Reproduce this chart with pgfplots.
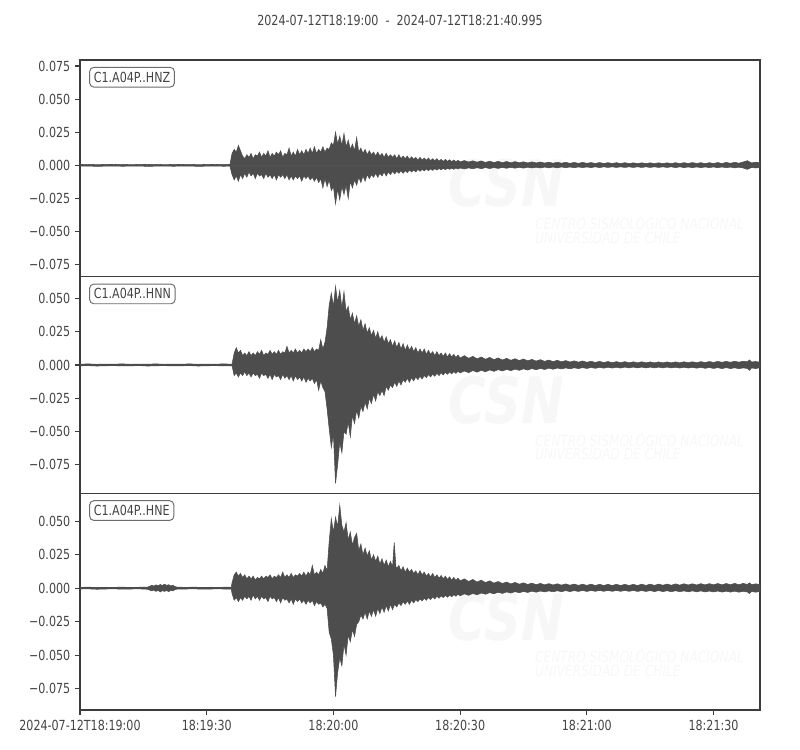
\documentclass[border=0pt]{standalone}
\usepackage{fontspec}
\setmainfont{DejaVu Sans}[FakeStretch=0.8]
\usepackage{pgfplots}
\usepackage{pgfplotstable}
\pgfplotsset{compat=1.18}

\definecolor{tracec}{RGB}{77,77,77}
\definecolor{txt}{RGB}{68,68,68}
\definecolor{frame}{RGB}{60,60,60}
\definecolor{wm}{RGB}{247,247,247}

% ---- HNZ envelope ----
\pgfplotstableread[row sep=\\]{
t v\\
0 0.0006\\ 2 0.0008\\ 4 0.0005\\ 6 0.0007\\ 8 0.0006\\ 10 0.0008\\ 12 0.0005\\ 14 0.0007\\ 16 0.0006\\ 18 0.0008\\
20 0.0005\\ 22 0.0007\\ 24 0.0006\\ 26 0.0008\\ 28 0.0005\\ 30 0.0007\\ 32 0.0006\\ 34 0.0008\\ 35.5 0.0006\\
36 0.009\\ 36.5 0.012\\ 37 0.010\\ 37.5 0.015\\ 38 0.011\\ 38.5 0.007\\ 39 0.005\\ 39.5 0.008\\ 40 0.006\\ 40.5 0.009\\
41 0.005\\ 41.5 0.008\\ 42 0.007\\ 42.5 0.010\\ 43 0.006\\ 43.5 0.009\\ 44 0.007\\ 44.5 0.011\\ 45 0.006\\ 45.5 0.009\\
46 0.007\\ 46.5 0.010\\ 47 0.008\\ 47.5 0.011\\ 48 0.006\\ 48.5 0.009\\ 49 0.008\\ 49.5 0.013\\ 50 0.007\\ 50.5 0.010\\
51 0.007\\ 51.5 0.012\\ 52 0.008\\ 52.5 0.011\\ 53 0.008\\ 53.5 0.012\\ 54 0.009\\ 54.5 0.013\\ 55 0.009\\ 55.5 0.014\\
56 0.009\\ 56.5 0.012\\ 57 0.010\\ 57.5 0.014\\ 58 0.010\\ 58.5 0.013\\ 59 0.012\\ 59.5 0.017\\ 60 0.015\\ 60.5 0.025\\
61 0.016\\ 61.5 0.022\\ 62 0.015\\ 62.5 0.024\\ 63 0.014\\ 63.5 0.019\\ 64 0.012\\ 64.5 0.016\\ 65 0.011\\ 65.5 0.021\\
66 0.010\\ 66.5 0.013\\ 67 0.009\\ 67.5 0.012\\ 68 0.008\\ 68.5 0.011\\ 69 0.008\\ 69.5 0.010\\ 70 0.007\\ 70.5 0.010\\
71 0.007\\ 71.5 0.009\\ 72 0.006\\ 72.5 0.009\\ 73 0.006\\ 73.5 0.008\\ 74 0.006\\ 74.5 0.008\\ 75 0.005\\ 75.5 0.008\\
76 0.005\\ 76.5 0.007\\ 77 0.005\\ 77.5 0.007\\ 78 0.0045\\ 78.5 0.0065\\ 79 0.0045\\ 79.5 0.006\\ 80 0.004\\ 80.5 0.006\\
81 0.004\\ 81.5 0.0055\\ 82 0.0038\\ 82.5 0.0055\\ 83 0.0035\\ 83.5 0.005\\ 84 0.0035\\ 84.5 0.005\\ 85 0.0032\\ 85.5 0.0045\\
86 0.003\\ 86.5 0.0045\\ 87 0.003\\ 87.5 0.0042\\ 88 0.0028\\ 88.5 0.004\\ 89 0.0027\\ 89.5 0.0038\\ 90 0.0026\\
91 0.0036\\ 92 0.0025\\ 93 0.0034\\ 94 0.0024\\ 95 0.0033\\ 96 0.0022\\ 97 0.0031\\ 98 0.0021\\ 99 0.003\\ 100 0.002\\
101 0.0029\\ 102 0.0019\\ 103 0.0028\\ 104 0.0019\\ 105 0.0027\\ 106 0.0018\\ 107 0.0026\\ 108 0.0018\\ 109 0.0025\\ 110 0.0017\\
111 0.0024\\ 112 0.0016\\ 113 0.0023\\ 114 0.0016\\ 115 0.0023\\ 116 0.0015\\ 117 0.0022\\ 118 0.0015\\ 119 0.0022\\ 120 0.0015\\
121 0.0021\\ 122 0.0014\\ 123 0.0021\\ 124 0.0014\\ 125 0.002\\ 126 0.0014\\ 127 0.002\\ 128 0.0013\\ 129 0.002\\ 130 0.0013\\
131 0.0019\\ 132 0.0013\\ 133 0.0019\\ 134 0.0013\\ 135 0.0019\\ 136 0.0013\\ 137 0.0019\\ 138 0.0013\\ 139 0.0019\\ 140 0.0013\\
141 0.002\\ 142 0.0013\\ 143 0.002\\ 144 0.0014\\ 145 0.0021\\ 146 0.0014\\ 147 0.002\\ 148 0.0013\\ 149 0.002\\ 150 0.0014\\
151 0.0021\\ 152 0.0014\\ 153 0.0022\\ 154 0.0015\\ 155 0.0023\\ 156 0.0016\\ 157 0.0025\\ 158 0.0035\\ 159 0.0018\\ 160 0.0024\\
160.995 0.0018\\
}\hnzup
\pgfplotstableread[row sep=\\]{
t v\\
0 -0.0006\\ 2 -0.0005\\ 4 -0.0008\\ 6 -0.0006\\ 8 -0.0005\\ 10 -0.0007\\ 12 -0.0006\\ 14 -0.0005\\ 16 -0.0008\\ 18 -0.0006\\
20 -0.0005\\ 22 -0.0007\\ 24 -0.0006\\ 26 -0.0005\\ 28 -0.0008\\ 30 -0.0006\\ 32 -0.0005\\ 34 -0.0007\\ 35.5 -0.0006\\
36 -0.007\\ 36.5 -0.011\\ 37 -0.008\\ 37.5 -0.012\\ 38 -0.007\\ 38.5 -0.010\\ 39 -0.006\\ 39.5 -0.009\\ 40 -0.005\\ 40.5 -0.008\\
41 -0.006\\ 41.5 -0.010\\ 42 -0.006\\ 42.5 -0.008\\ 43 -0.007\\ 43.5 -0.010\\ 44 -0.006\\ 44.5 -0.009\\ 45 -0.007\\ 45.5 -0.010\\
46 -0.007\\ 46.5 -0.011\\ 47 -0.007\\ 47.5 -0.009\\ 48 -0.007\\ 48.5 -0.010\\ 49 -0.007\\ 49.5 -0.011\\ 50 -0.008\\ 50.5 -0.011\\
51 -0.008\\ 51.5 -0.010\\ 52 -0.008\\ 52.5 -0.012\\ 53 -0.008\\ 53.5 -0.010\\ 54 -0.008\\ 54.5 -0.011\\ 55 -0.009\\ 55.5 -0.012\\
56 -0.009\\ 56.5 -0.013\\ 57 -0.010\\ 57.5 -0.017\\ 58 -0.010\\ 58.5 -0.016\\ 59 -0.011\\ 59.5 -0.019\\ 60 -0.016\\ 60.5 -0.029\\
61 -0.018\\ 61.5 -0.026\\ 62 -0.016\\ 62.5 -0.022\\ 63 -0.015\\ 63.5 -0.025\\ 64 -0.012\\ 64.5 -0.017\\ 65 -0.011\\ 65.5 -0.015\\
66 -0.009\\ 66.5 -0.013\\ 67 -0.008\\ 67.5 -0.012\\ 68 -0.007\\ 68.5 -0.010\\ 69 -0.007\\ 69.5 -0.009\\ 70 -0.006\\ 70.5 -0.009\\
71 -0.006\\ 71.5 -0.008\\ 72 -0.005\\ 72.5 -0.008\\ 73 -0.005\\ 73.5 -0.007\\ 74 -0.0045\\ 74.5 -0.0065\\ 75 -0.0045\\ 75.5 -0.006\\
76 -0.004\\ 76.5 -0.006\\ 77 -0.004\\ 77.5 -0.0055\\ 78 -0.0035\\ 78.5 -0.005\\ 79 -0.0035\\ 79.5 -0.005\\ 80 -0.003\\ 80.5 -0.0045\\
81 -0.003\\ 81.5 -0.0042\\ 82 -0.0028\\ 82.5 -0.004\\ 83 -0.0027\\ 83.5 -0.0038\\ 84 -0.0025\\ 84.5 -0.0036\\ 85 -0.0024\\ 85.5 -0.0034\\
86 -0.0023\\ 86.5 -0.0032\\ 87 -0.0022\\ 87.5 -0.003\\ 88 -0.0021\\ 88.5 -0.003\\ 89 -0.002\\ 89.5 -0.0028\\ 90 -0.002\\
91 -0.0027\\ 92 -0.0019\\ 93 -0.0026\\ 94 -0.0018\\ 95 -0.0025\\ 96 -0.0017\\ 97 -0.0024\\ 98 -0.0017\\ 99 -0.0023\\ 100 -0.0016\\
101 -0.0022\\ 102 -0.0015\\ 103 -0.0021\\ 104 -0.0015\\ 105 -0.0021\\ 106 -0.0014\\ 107 -0.002\\ 108 -0.0014\\ 109 -0.002\\ 110 -0.0013\\
111 -0.0019\\ 112 -0.0013\\ 113 -0.0019\\ 114 -0.0012\\ 115 -0.0018\\ 116 -0.0012\\ 117 -0.0018\\ 118 -0.0012\\ 119 -0.0017\\ 120 -0.0012\\
121 -0.0017\\ 122 -0.0011\\ 123 -0.0017\\ 124 -0.0011\\ 125 -0.0016\\ 126 -0.0011\\ 127 -0.0016\\ 128 -0.0011\\ 129 -0.0016\\ 130 -0.0011\\
131 -0.0016\\ 132 -0.0011\\ 133 -0.0016\\ 134 -0.0011\\ 135 -0.0016\\ 136 -0.0011\\ 137 -0.0016\\ 138 -0.0011\\ 139 -0.0016\\ 140 -0.0011\\
141 -0.0017\\ 142 -0.0011\\ 143 -0.0017\\ 144 -0.0012\\ 145 -0.0017\\ 146 -0.0012\\ 147 -0.0017\\ 148 -0.0012\\ 149 -0.0017\\ 150 -0.0012\\
151 -0.0018\\ 152 -0.0012\\ 153 -0.0018\\ 154 -0.0013\\ 155 -0.0019\\ 156 -0.0014\\ 157 -0.002\\ 158 -0.003\\ 159 -0.0016\\ 160 -0.002\\
160.995 -0.0015\\
}\hnzlo

% ---- HNN envelope ----
\pgfplotstableread[row sep=\\]{
t v\\
0 0.0006\\ 2 0.0008\\ 4 0.0005\\ 6 0.0007\\ 8 0.0006\\ 10 0.0008\\ 12 0.0005\\ 14 0.0007\\ 16 0.0006\\ 18 0.0008\\
20 0.0005\\ 22 0.0007\\ 24 0.0006\\ 26 0.0008\\ 28 0.0005\\ 30 0.0007\\ 32 0.0006\\ 34 0.0008\\ 36 0.0006\\
36.5 0.009\\ 37 0.013\\ 37.5 0.009\\ 38 0.011\\ 38.5 0.007\\ 39 0.009\\ 39.5 0.007\\ 40 0.010\\ 40.5 0.007\\ 41 0.009\\
41.5 0.007\\ 42 0.010\\ 42.5 0.008\\ 43 0.011\\ 43.5 0.007\\ 44 0.009\\ 44.5 0.008\\ 45 0.011\\ 45.5 0.008\\ 46 0.010\\
46.5 0.008\\ 47 0.011\\ 47.5 0.008\\ 48 0.010\\ 48.5 0.009\\ 49 0.014\\ 49.5 0.009\\ 50 0.011\\ 50.5 0.009\\ 51 0.012\\
51.5 0.009\\ 52 0.011\\ 52.5 0.009\\ 53 0.012\\ 53.5 0.010\\ 54 0.012\\ 54.5 0.010\\ 55 0.013\\ 55.5 0.010\\ 56 0.012\\
56.5 0.011\\ 57 0.019\\ 57.5 0.012\\ 58 0.017\\ 58.5 0.028\\ 59 0.045\\ 59.5 0.054\\ 60 0.044\\ 60.5 0.059\\ 61 0.047\\
61.5 0.056\\ 62 0.043\\ 62.5 0.055\\ 63 0.040\\ 63.5 0.044\\ 64 0.034\\ 64.5 0.039\\ 65 0.031\\ 65.5 0.037\\ 66 0.029\\
66.5 0.034\\ 67 0.026\\ 67.5 0.031\\ 68 0.024\\ 68.5 0.028\\ 69 0.022\\ 69.5 0.026\\ 70 0.020\\ 70.5 0.025\\ 71 0.019\\
71.5 0.022\\ 72 0.017\\ 72.5 0.021\\ 73 0.016\\ 73.5 0.019\\ 74 0.014\\ 74.5 0.018\\ 75 0.013\\ 75.5 0.017\\ 76 0.012\\
76.5 0.016\\ 77 0.011\\ 77.5 0.015\\ 78 0.011\\ 78.5 0.014\\ 79 0.010\\ 79.5 0.013\\ 80 0.009\\ 80.5 0.012\\ 81 0.009\\
81.5 0.012\\ 82 0.008\\ 82.5 0.011\\ 83 0.008\\ 83.5 0.010\\ 84 0.007\\ 84.5 0.010\\ 85 0.007\\ 85.5 0.009\\ 86 0.0065\\
86.5 0.009\\ 87 0.006\\ 87.5 0.0085\\ 88 0.006\\ 88.5 0.008\\ 89 0.0055\\ 89.5 0.0075\\ 90 0.0052\\
91 0.007\\ 92 0.005\\ 93 0.0065\\ 94 0.0046\\ 95 0.006\\ 96 0.0043\\ 97 0.0057\\ 98 0.004\\ 99 0.0053\\ 100 0.0037\\
101 0.005\\ 102 0.0035\\ 103 0.0047\\ 104 0.0033\\ 105 0.0045\\ 106 0.0031\\ 107 0.0042\\ 108 0.0029\\ 109 0.004\\ 110 0.0027\\
111 0.0037\\ 112 0.0025\\ 113 0.0035\\ 114 0.0024\\ 115 0.0033\\ 116 0.0022\\ 117 0.0031\\ 118 0.0021\\ 119 0.003\\ 120 0.002\\
121 0.0028\\ 122 0.0019\\ 123 0.0027\\ 124 0.0018\\ 125 0.0026\\ 126 0.0017\\ 127 0.0025\\ 128 0.0017\\ 129 0.0025\\ 130 0.0016\\
131 0.0024\\ 132 0.0016\\ 133 0.0024\\ 134 0.0016\\ 135 0.0023\\ 136 0.0016\\ 137 0.0023\\ 138 0.0016\\ 139 0.0023\\ 140 0.0016\\
141 0.0023\\ 142 0.0016\\ 143 0.0024\\ 144 0.0017\\ 145 0.0024\\ 146 0.0017\\ 147 0.0025\\ 148 0.0018\\ 149 0.0026\\ 150 0.0019\\
151 0.0027\\ 152 0.002\\ 153 0.0027\\ 154 0.002\\ 155 0.0028\\ 156 0.0021\\ 157 0.0028\\ 158 0.0024\\ 158.5 0.0038\\ 159 0.0022\\
160 0.0026\\ 160.995 0.002\\
}\hnnup
\pgfplotstableread[row sep=\\]{
t v\\
0 -0.0006\\ 2 -0.0005\\ 4 -0.0008\\ 6 -0.0006\\ 8 -0.0005\\ 10 -0.0007\\ 12 -0.0006\\ 14 -0.0005\\ 16 -0.0008\\ 18 -0.0006\\
20 -0.0005\\ 22 -0.0007\\ 24 -0.0006\\ 26 -0.0005\\ 28 -0.0008\\ 30 -0.0006\\ 32 -0.0005\\ 34 -0.0007\\ 36 -0.0006\\
36.5 -0.008\\ 37 -0.006\\ 37.5 -0.009\\ 38 -0.006\\ 38.5 -0.008\\ 39 -0.005\\ 39.5 -0.008\\ 40 -0.006\\ 40.5 -0.009\\ 41 -0.006\\
41.5 -0.008\\ 42 -0.007\\ 42.5 -0.010\\ 43 -0.006\\ 43.5 -0.008\\ 44 -0.007\\ 44.5 -0.010\\ 45 -0.007\\ 45.5 -0.011\\ 46 -0.007\\
46.5 -0.009\\ 47 -0.008\\ 47.5 -0.011\\ 48 -0.007\\ 48.5 -0.010\\ 49 -0.008\\ 49.5 -0.011\\ 50 -0.008\\ 50.5 -0.012\\ 51 -0.008\\
51.5 -0.011\\ 52 -0.009\\ 52.5 -0.012\\ 53 -0.009\\ 53.5 -0.013\\ 54 -0.010\\ 54.5 -0.012\\ 55 -0.010\\ 55.5 -0.014\\ 56 -0.011\\
56.5 -0.019\\ 57 -0.012\\ 57.5 -0.017\\ 58 -0.020\\ 58.5 -0.033\\ 59 -0.048\\ 59.5 -0.062\\ 60 -0.052\\ 60.5 -0.089\\ 61 -0.075\\
61.5 -0.058\\ 62 -0.066\\ 62.5 -0.050\\ 63 -0.052\\ 63.5 -0.043\\ 64 -0.054\\ 64.5 -0.038\\ 65 -0.044\\ 65.5 -0.034\\ 66 -0.040\\
66.5 -0.031\\ 67 -0.035\\ 67.5 -0.028\\ 68 -0.033\\ 68.5 -0.025\\ 69 -0.029\\ 69.5 -0.022\\ 70 -0.027\\ 70.5 -0.020\\ 71 -0.023\\
71.5 -0.019\\ 72 -0.023\\ 72.5 -0.016\\ 73 -0.019\\ 73.5 -0.015\\ 74 -0.017\\ 74.5 -0.013\\ 75 -0.016\\ 75.5 -0.012\\ 76 -0.015\\
76.5 -0.011\\ 77 -0.013\\ 77.5 -0.010\\ 78 -0.013\\ 78.5 -0.0095\\ 79 -0.012\\ 79.5 -0.009\\ 80 -0.011\\ 80.5 -0.0085\\ 81 -0.0105\\
81.5 -0.008\\ 82 -0.0095\\ 82.5 -0.0072\\ 83 -0.009\\ 83.5 -0.0068\\ 84 -0.0085\\ 84.5 -0.0062\\ 85 -0.008\\ 85.5 -0.0058\\ 86 -0.0075\\
86.5 -0.0055\\ 87 -0.007\\ 87.5 -0.0052\\ 88 -0.0067\\ 88.5 -0.005\\ 89 -0.0063\\ 89.5 -0.0047\\ 90 -0.006\\
91 -0.0045\\ 92 -0.0058\\ 93 -0.0042\\ 94 -0.0054\\ 95 -0.004\\ 96 -0.0051\\ 97 -0.0037\\ 98 -0.0048\\ 99 -0.0035\\ 100 -0.0045\\
101 -0.0033\\ 102 -0.0043\\ 103 -0.0031\\ 104 -0.004\\ 105 -0.0029\\ 106 -0.0038\\ 107 -0.0027\\ 108 -0.0036\\ 109 -0.0026\\ 110 -0.0034\\
111 -0.0024\\ 112 -0.0032\\ 113 -0.0023\\ 114 -0.003\\ 115 -0.0022\\ 116 -0.0029\\ 117 -0.0021\\ 118 -0.0027\\ 119 -0.002\\ 120 -0.0026\\
121 -0.0019\\ 122 -0.0025\\ 123 -0.0018\\ 124 -0.0024\\ 125 -0.0017\\ 126 -0.0023\\ 127 -0.0017\\ 128 -0.0023\\ 129 -0.0016\\ 130 -0.0022\\
131 -0.0016\\ 132 -0.0022\\ 133 -0.0016\\ 134 -0.0022\\ 135 -0.0016\\ 136 -0.0022\\ 137 -0.0016\\ 138 -0.0022\\ 139 -0.0016\\ 140 -0.0022\\
141 -0.0017\\ 142 -0.0023\\ 143 -0.0017\\ 144 -0.0023\\ 145 -0.0018\\ 146 -0.0024\\ 147 -0.0018\\ 148 -0.0025\\ 149 -0.0019\\ 150 -0.0026\\
151 -0.002\\ 152 -0.0027\\ 153 -0.002\\ 154 -0.0027\\ 155 -0.0021\\ 156 -0.0028\\ 157 -0.0022\\ 158 -0.0026\\ 158.5 -0.004\\ 159 -0.0022\\
160 -0.0027\\ 160.995 -0.002\\
}\hnnlo

% ---- HNE envelope ----
\pgfplotstableread[row sep=\\]{
t v\\
0 0.0006\\ 2 0.0008\\ 4 0.0005\\ 6 0.0007\\ 8 0.0006\\ 10 0.0008\\ 12 0.0005\\ 14 0.0007\\ 16 0.0008\\ 16.5 0.0015\\
17 0.0022\\ 17.5 0.0016\\ 18 0.0025\\ 18.5 0.0018\\ 19 0.0028\\ 19.5 0.002\\ 20 0.003\\ 20.5 0.0021\\ 21 0.0026\\ 21.5 0.0017\\
22 0.0022\\ 22.5 0.0012\\ 23 0.0008\\ 25 0.0006\\ 27 0.0008\\ 29 0.0005\\ 31 0.0007\\ 33 0.0006\\ 35 0.0008\\ 35.8 0.0006\\
36 0.004\\ 36.5 0.010\\ 37 0.012\\ 37.5 0.009\\ 38 0.011\\ 38.5 0.008\\ 39 0.010\\ 39.5 0.007\\ 40 0.009\\ 40.5 0.007\\
41 0.009\\ 41.5 0.006\\ 42 0.008\\ 42.5 0.007\\ 43 0.009\\ 43.5 0.007\\ 44 0.009\\ 44.5 0.008\\ 45 0.010\\ 45.5 0.007\\
46 0.009\\ 46.5 0.008\\ 47 0.010\\ 47.5 0.008\\ 48 0.012\\ 48.5 0.008\\ 49 0.010\\ 49.5 0.008\\ 50 0.011\\ 50.5 0.008\\
51 0.010\\ 51.5 0.009\\ 52 0.011\\ 52.5 0.009\\ 53 0.012\\ 53.5 0.009\\ 54 0.012\\ 54.5 0.010\\ 55 0.017\\ 55.5 0.010\\
56 0.012\\ 56.5 0.010\\ 57 0.014\\ 57.5 0.011\\ 58 0.017\\ 58.5 0.013\\ 59 0.035\\ 59.5 0.052\\ 60 0.042\\ 60.5 0.053\\
61 0.046\\ 61.5 0.062\\ 62 0.047\\ 62.5 0.042\\ 63 0.049\\ 63.5 0.036\\ 64 0.042\\ 64.5 0.032\\ 65 0.038\\ 65.5 0.041\\
66 0.028\\ 66.5 0.033\\ 67 0.025\\ 67.5 0.030\\ 68 0.024\\ 68.5 0.028\\ 69 0.021\\ 69.5 0.025\\ 70 0.020\\ 70.5 0.024\\
71 0.018\\ 71.5 0.022\\ 72 0.017\\ 72.5 0.021\\ 73 0.016\\ 73.5 0.020\\ 74 0.016\\ 74.4 0.034\\ 74.8 0.016\\ 75 0.015\\
75.5 0.017\\ 76 0.013\\ 76.5 0.016\\ 77 0.012\\ 77.5 0.015\\ 78 0.012\\ 78.5 0.014\\ 79 0.011\\ 79.5 0.013\\ 80 0.010\\
80.5 0.013\\ 81 0.010\\ 81.5 0.012\\ 82 0.009\\ 82.5 0.011\\ 83 0.0085\\ 83.5 0.011\\ 84 0.008\\ 84.5 0.010\\ 85 0.0075\\
85.5 0.0095\\ 86 0.007\\ 86.5 0.009\\ 87 0.0065\\ 87.5 0.0085\\ 88 0.006\\ 88.5 0.008\\ 89 0.0058\\ 89.5 0.0075\\ 90 0.0055\\
91 0.007\\ 92 0.005\\ 93 0.0065\\ 94 0.0046\\ 95 0.006\\ 96 0.0042\\ 97 0.0055\\ 98 0.0038\\ 99 0.005\\ 100 0.0035\\
101 0.0046\\ 102 0.0032\\ 103 0.0043\\ 104 0.003\\ 105 0.004\\ 106 0.0028\\ 107 0.0038\\ 108 0.0026\\ 109 0.0036\\ 110 0.0025\\
111 0.0034\\ 112 0.0024\\ 113 0.0033\\ 114 0.0023\\ 115 0.0032\\ 116 0.0022\\ 117 0.0031\\ 118 0.0021\\ 119 0.003\\ 120 0.0021\\
121 0.003\\ 122 0.002\\ 123 0.0029\\ 124 0.002\\ 125 0.0029\\ 126 0.002\\ 127 0.0029\\ 128 0.002\\ 129 0.0029\\ 130 0.002\\
131 0.0029\\ 132 0.002\\ 133 0.003\\ 134 0.0021\\ 135 0.003\\ 136 0.0021\\ 137 0.0031\\ 138 0.0022\\ 139 0.0031\\ 140 0.0022\\
141 0.0032\\ 142 0.0023\\ 143 0.0033\\ 144 0.0024\\ 145 0.0033\\ 146 0.0024\\ 147 0.0034\\ 148 0.0025\\ 149 0.0034\\ 150 0.0025\\
151 0.0035\\ 152 0.0025\\ 153 0.0035\\ 154 0.0026\\ 155 0.0036\\ 156 0.0026\\ 157 0.0036\\ 158 0.0028\\ 158.5 0.004\\ 159 0.0026\\
160 0.0033\\ 160.995 0.0025\\
}\hneup
\pgfplotstableread[row sep=\\]{
t v\\
0 -0.0006\\ 2 -0.0005\\ 4 -0.0008\\ 6 -0.0006\\ 8 -0.0005\\ 10 -0.0007\\ 12 -0.0006\\ 14 -0.0005\\ 16 -0.0008\\ 16.5 -0.0014\\
17 -0.002\\ 17.5 -0.0014\\ 18 -0.0024\\ 18.5 -0.0016\\ 19 -0.0028\\ 19.5 -0.0018\\ 20 -0.0024\\ 20.5 -0.0017\\ 21 -0.0026\\ 21.5 -0.0015\\
22 -0.002\\ 22.5 -0.001\\ 23 -0.0007\\ 25 -0.0006\\ 27 -0.0005\\ 29 -0.0007\\ 31 -0.0006\\ 33 -0.0005\\ 35 -0.0007\\ 35.8 -0.0006\\
36 -0.004\\ 36.5 -0.009\\ 37 -0.007\\ 37.5 -0.010\\ 38 -0.007\\ 38.5 -0.009\\ 39 -0.006\\ 39.5 -0.008\\ 40 -0.006\\ 40.5 -0.009\\
41 -0.005\\ 41.5 -0.008\\ 42 -0.006\\ 42.5 -0.009\\ 43 -0.006\\ 43.5 -0.008\\ 44 -0.007\\ 44.5 -0.010\\ 45 -0.006\\ 45.5 -0.008\\
46 -0.007\\ 46.5 -0.010\\ 47 -0.007\\ 47.5 -0.011\\ 48 -0.007\\ 48.5 -0.009\\ 49 -0.008\\ 49.5 -0.011\\ 50 -0.008\\ 50.5 -0.012\\
51 -0.008\\ 51.5 -0.010\\ 52 -0.008\\ 52.5 -0.011\\ 53 -0.009\\ 53.5 -0.012\\ 54 -0.009\\ 54.5 -0.011\\ 55 -0.009\\ 55.5 -0.013\\
56 -0.010\\ 56.5 -0.012\\ 57 -0.011\\ 57.5 -0.014\\ 58 -0.012\\ 58.5 -0.015\\ 59 -0.033\\ 59.5 -0.038\\ 60 -0.050\\ 60.5 -0.081\\
61 -0.063\\ 61.5 -0.052\\ 62 -0.058\\ 62.5 -0.042\\ 63 -0.050\\ 63.5 -0.035\\ 64 -0.040\\ 64.5 -0.031\\ 65 -0.036\\ 65.5 -0.027\\
66 -0.025\\ 66.5 -0.020\\ 67 -0.023\\ 67.5 -0.018\\ 68 -0.023\\ 68.5 -0.017\\ 69 -0.021\\ 69.5 -0.016\\ 70 -0.021\\ 70.5 -0.015\\
71 -0.019\\ 71.5 -0.014\\ 72 -0.018\\ 72.5 -0.013\\ 73 -0.017\\ 73.5 -0.012\\ 74 -0.016\\ 74.5 -0.012\\ 75 -0.014\\ 75.5 -0.011\\
76 -0.013\\ 76.5 -0.010\\ 77 -0.012\\ 77.5 -0.0095\\ 78 -0.012\\ 78.5 -0.009\\ 79 -0.011\\ 79.5 -0.0085\\ 80 -0.010\\ 80.5 -0.008\\
81 -0.0095\\ 81.5 -0.0075\\ 82 -0.009\\ 82.5 -0.007\\ 83 -0.0085\\ 83.5 -0.0065\\ 84 -0.008\\ 84.5 -0.006\\ 85 -0.0075\\ 85.5 -0.0057\\
86 -0.007\\ 86.5 -0.0054\\ 87 -0.0067\\ 87.5 -0.0051\\ 88 -0.0064\\ 88.5 -0.0048\\ 89 -0.006\\ 89.5 -0.0045\\ 90 -0.0057\\
91 -0.0042\\ 92 -0.0053\\ 93 -0.0039\\ 94 -0.0049\\ 95 -0.0036\\ 96 -0.0045\\ 97 -0.0033\\ 98 -0.0042\\ 99 -0.003\\ 100 -0.0039\\
101 -0.0028\\ 102 -0.0036\\ 103 -0.0026\\ 104 -0.0034\\ 105 -0.0024\\ 106 -0.0032\\ 107 -0.0022\\ 108 -0.003\\ 109 -0.0021\\ 110 -0.0028\\
111 -0.002\\ 112 -0.0027\\ 113 -0.0019\\ 114 -0.0026\\ 115 -0.0018\\ 116 -0.0025\\ 117 -0.0018\\ 118 -0.0024\\ 119 -0.0017\\ 120 -0.0024\\
121 -0.0017\\ 122 -0.0023\\ 123 -0.0017\\ 124 -0.0023\\ 125 -0.0017\\ 126 -0.0023\\ 127 -0.0017\\ 128 -0.0023\\ 129 -0.0017\\ 130 -0.0023\\
131 -0.0017\\ 132 -0.0024\\ 133 -0.0018\\ 134 -0.0024\\ 135 -0.0018\\ 136 -0.0025\\ 137 -0.0018\\ 138 -0.0025\\ 139 -0.0019\\ 140 -0.0026\\
141 -0.0019\\ 142 -0.0026\\ 143 -0.002\\ 144 -0.0027\\ 145 -0.002\\ 146 -0.0027\\ 147 -0.002\\ 148 -0.0028\\ 149 -0.0021\\ 150 -0.0028\\
151 -0.0021\\ 152 -0.0029\\ 153 -0.0022\\ 154 -0.0029\\ 155 -0.0022\\ 156 -0.003\\ 157 -0.0023\\ 158 -0.0028\\ 158.5 -0.004\\ 159 -0.0024\\
160 -0.003\\ 160.995 -0.0022\\
}\hnelo

\pgfplotsset{
  seis/.style={
    width=489.6pt, height=156pt, scale only axis,
    anchor=south west,
    xmin=0, xmax=160.995,
    scaled y ticks=false, scaled x ticks=false,
    axis line style={frame, line width=0.8pt},
    tick style={frame, line width=0.8pt},
    tick align=outside, major tick length=3.5pt,
    ytick pos=left, xtick pos=bottom,
    ticklabel style={font=\fontsize{10}{12}\selectfont, text=txt},
  },
  band/.style={fill=tracec, draw=tracec, line width=0.4pt, line join=miter, forget plot},
}

\newcommand{\watermark}{%
  \node[text=wm, font=\bfseries\itshape\fontsize{46}{46}\selectfont] at (rel axis cs:0.627,0.43) {CSN};
  \node[text=wm, anchor=west, font=\itshape\fontsize{11}{11}\selectfont] at (rel axis cs:0.662,0.25) {CENTRO SISMOLÓGICO NACIONAL};
  \node[text=wm, anchor=west, font=\itshape\fontsize{11}{11}\selectfont] at (rel axis cs:0.662,0.18) {UNIVERSIDAD DE CHILE};
}
\newcommand{\chan}[1]{%
  \node[draw=black!58, line width=0.7pt, fill=white, rounded corners=3pt, anchor=north west,
        inner xsep=3pt, inner ysep=3.3pt,
        text=txt, font=\fontsize{10}{12}\selectfont] at (rel axis cs:0.0135,0.968) {#1};
}

\begin{document}
\begin{tikzpicture}
\path[use as bounding box] (0,0) rectangle (576pt,540pt);
\node[text=txt, font=\fontsize{10}{12}\selectfont] at (288pt,525.6pt)
  {2024-07-12T18:19:00\ \ -\ \ 2024-07-12T18:21:40.995};

% HNZ
\begin{axis}[seis, at={(57.6pt,340.8pt)},
  ymin=-0.0840, ymax=0.0795, xtick=\empty,
  ytick={-0.075,-0.05,-0.025,0,0.025,0.05,0.075},
  yticklabels={−0.075,−0.050,−0.025,0.000,0.025,0.050,0.075}]
\watermark
\addplot[band] table[x=t,y=v] {\hnzup} \closedcycle;
\addplot[band] table[x=t,y=v] {\hnzlo} \closedcycle;
\chan{C1.A04P..HNZ}
\end{axis}

% HNN
\begin{axis}[seis, at={(57.6pt,184.8pt)},
  ymin=-0.0965, ymax=0.0664, xtick=\empty,
  ytick={-0.075,-0.05,-0.025,0,0.025,0.05},
  yticklabels={−0.075,−0.050,−0.025,0.000,0.025,0.050}]
\watermark
\addplot[band] table[x=t,y=v] {\hnnup} \closedcycle;
\addplot[band] table[x=t,y=v] {\hnnlo} \closedcycle;
\chan{C1.A04P..HNN}
\end{axis}

% HNE
\begin{axis}[seis, at={(57.6pt,28.8pt)},
  ymin=-0.0910, ymax=0.0709,
  xtick={0,30,60,90,120,150},
  xticklabels={2024-07-12T18:19:00,18:19:30,18:20:00,18:20:30,18:21:00,18:21:30},
  ytick={-0.075,-0.05,-0.025,0,0.025,0.05},
  yticklabels={−0.075,−0.050,−0.025,0.000,0.025,0.050}]
\watermark
\addplot[band] table[x=t,y=v] {\hneup} \closedcycle;
\addplot[band] table[x=t,y=v] {\hnelo} \closedcycle;
\chan{C1.A04P..HNE}
\end{axis}
\end{tikzpicture}
\end{document}
